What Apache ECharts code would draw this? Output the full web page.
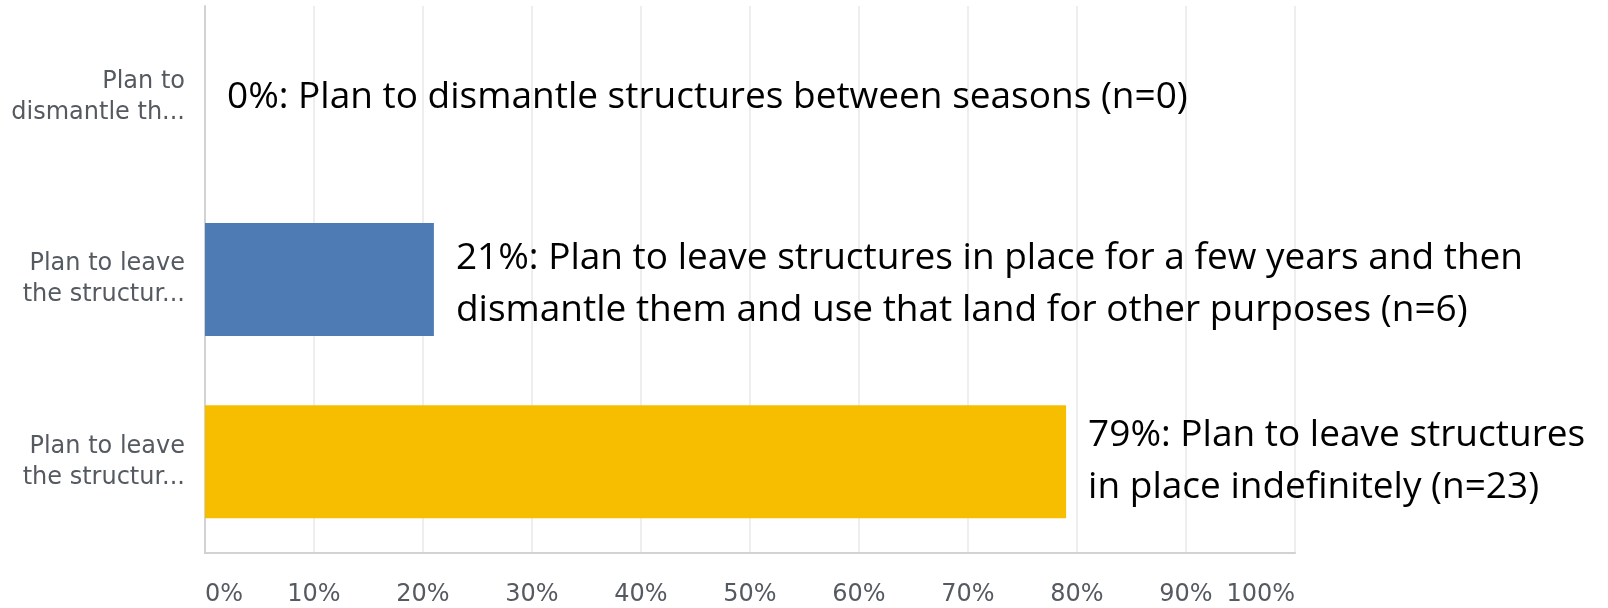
<!DOCTYPE html>
<html>
<head>
<meta charset="utf-8">
<script src="https://cdn.jsdelivr.net/npm/echarts@6/dist/echarts.min.js"></script>
<style>
  html, body { margin: 0; padding: 0; background: #ffffff; }
  #chart { width: 1608px; height: 608px; }
</style>
</head>
<body>
<div id="chart"></div>
<script>
// Category labels shown on the left (truncated as in the survey tool)
const categories = [
  'Plan to\ndismantle th...',
  'Plan to leave\nthe structur...',
  'Plan to leave\nthe structur...'
];
// Share of respondents, in percent
const percentValues = [0, 21, 79];
// Number of respondents per answer
const respondentCounts = [0, 6, 23];
// Full answer text used in the value labels
const answerTexts = [
  'Plan to dismantle structures between seasons',
  'Plan to leave structures in place for a few years and then\ndismantle them and use that land for other purposes',
  'Plan to leave structures\nin place indefinitely'
];
const barColors = ['#4f7bb5', '#4f7bb5', '#f7be00'];
// Value axis ticks
const axisTicks = [0, 10, 20, 30, 40, 50, 60, 70, 80, 90, 100];

const chart = echarts.init(document.getElementById('chart'), null, { renderer: 'canvas' });

const seriesData = percentValues.map((v, i) => ({
  value: v,
  itemStyle: { color: barColors[i] },
  label: {
    formatter: v + '%: ' + answerTexts[i] + ' (n=' + respondentCounts[i] + ')',
    offset: i === 1 ? [0, 5] : [0, 0]
  }
}));

const grayText = '#555a61';

chart.setOption({
  animation: false,
  backgroundColor: '#ffffff',
  grid: { left: 205, right: 313, top: 6, bottom: 55, containLabel: false },
  xAxis: {
    type: 'value',
    min: axisTicks[0],
    max: axisTicks[axisTicks.length - 1],
    interval: axisTicks[1] - axisTicks[0],
    axisLine: { show: true, lineStyle: { color: '#d2d2d2', width: 2 } },
    axisTick: { show: false },
    splitLine: { show: true, lineStyle: { color: '#e8e8e8', width: 1.5 } },
    axisLabel: {
      formatter: '{value}%',
      color: grayText,
      fontFamily: 'DejaVu Sans',
      fontSize: 24,
      margin: 30,
      alignMinLabel: 'left',
      alignMaxLabel: 'right'
    }
  },
  yAxis: {
    type: 'category',
    inverse: true,
    data: categories,
    axisLine: { show: true, lineStyle: { color: '#d2d2d2', width: 2 } },
    axisTick: { show: false },
    splitLine: { show: false },
    axisLabel: {
      color: grayText,
      fontFamily: 'DejaVu Sans',
      fontSize: 24,
      lineHeight: 31,
      margin: 20,
      align: 'right'
    }
  },
  series: [{
    type: 'bar',
    data: seriesData,
    barWidth: '62%',
    label: {
      show: true,
      position: 'right',
      distance: 22,
      color: '#000000',
      fontFamily: 'Open Sans',
      fontSize: 37,
      lineHeight: 52,
      align: 'left'
    }
  }]
});
</script>
</body>
</html>
